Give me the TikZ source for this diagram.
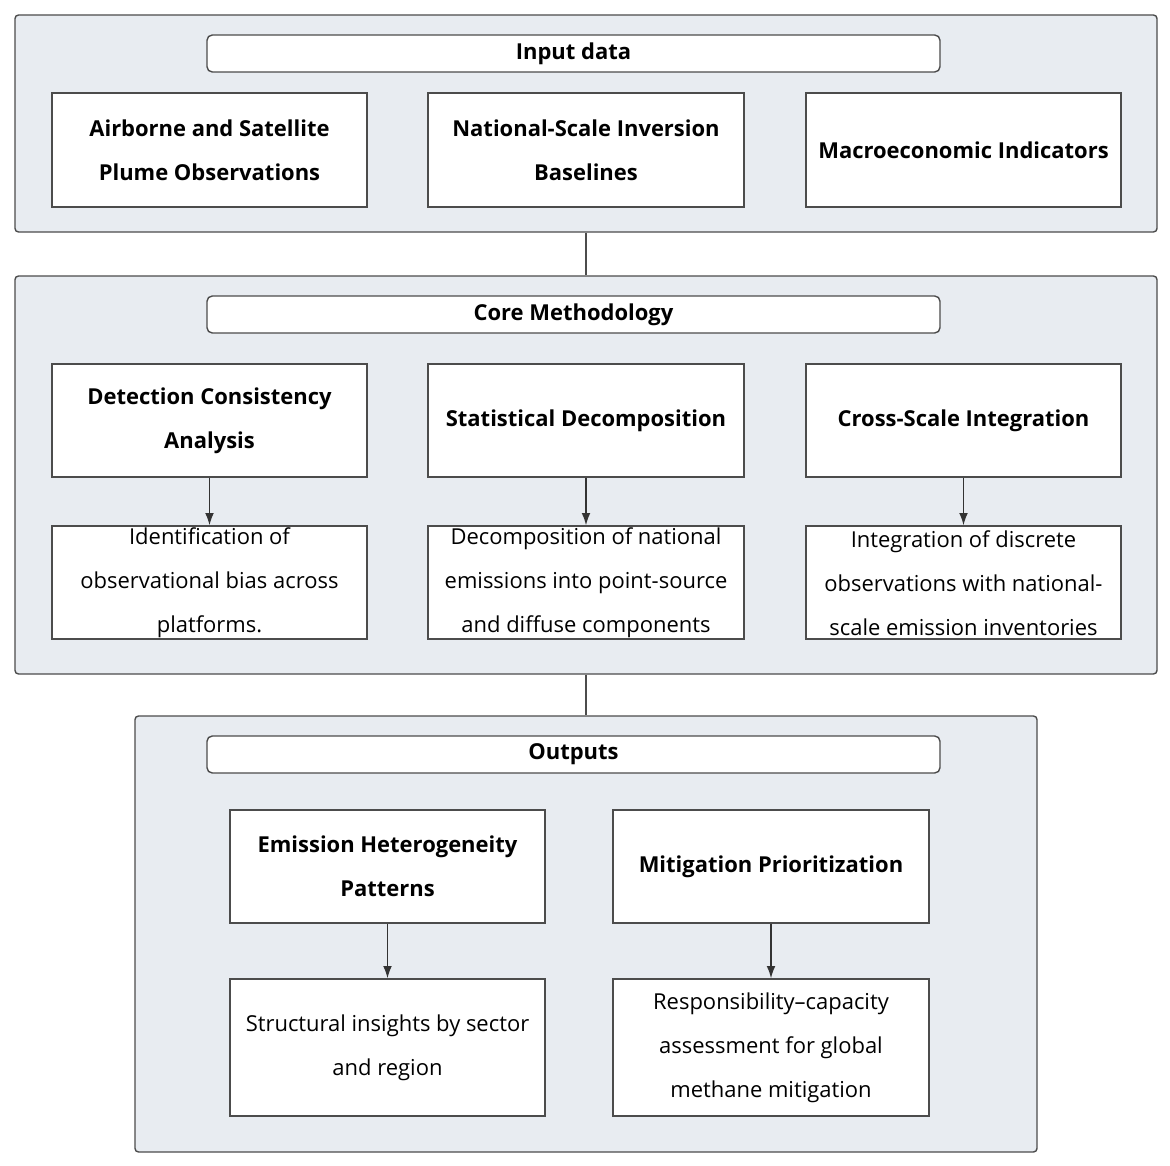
\documentclass[tikz,border=0pt]{standalone}
\usepackage{fontspec}
\setmainfont{Open Sans}
\usetikzlibrary{arrows.meta}
\begin{document}
\begin{tikzpicture}[x=0.02cm,y=-0.02cm,
  panel/.style={draw=black!70,fill=panelfill,rounded corners=2pt,line width=0.8pt},
  hdr/.style={draw=black!70,fill=white,rounded corners=3pt,line width=0.8pt,font=\fontsize{12.5}{24}\selectfont\bfseries,inner sep=0pt},
  tbox/.style={draw=black!70,fill=white,line width=0.8pt,align=center,inner sep=0pt,font=\fontsize{12.5}{25}\selectfont\bfseries},
  dbox/.style={draw=black!70,fill=white,line width=0.8pt,align=center,inner sep=0pt,font=\fontsize{12.5}{25}\selectfont},
  link/.style={draw=black!70,line width=0.8pt},
  arr/.style={draw=black!80,line width=0.8pt,-{Latex[length=7pt,width=5pt]}}]
\definecolor{panelfill}{HTML}{E8ECF1}
\useasboundingbox (0,0) rectangle (1170,1166);
\newcommand{\bx}[6]{\node[#1,minimum width=#4*0.02cm,minimum height=#5*0.02cm] (#2) at (#3) {#6};}
% panels
\node[panel,minimum width=1142*0.02cm,minimum height=217*0.02cm] (p1) at (586,123.5) {};
\node[panel,minimum width=1142*0.02cm,minimum height=398*0.02cm] (p2) at (586,475) {};
\node[panel,minimum width=902*0.02cm,minimum height=436*0.02cm] (p3) at (586,934) {};
\draw[link] (p1.south) -- (p2.north);
\draw[link] (p2.south) -- (p3.north);
% panel 1
\bx{hdr}{h1}{573.5,53.5}{733}{37}{Input data}
\bx{tbox}{a1}{209.5,150}{315}{114}{Airborne and Satellite\\Plume Observations}
\bx{tbox}{a2}{586,150}{316}{114}{National-Scale Inversion\\Baselines}
\bx{tbox}{a3}{963.5,150}{315}{114}{Macroeconomic Indicators}
% panel 2
\bx{hdr}{h2}{573.5,314.5}{733}{37}{Core Methodology}
\bx{tbox}{b1}{209.5,420.5}{315}{113}{Detection Consistency\\Analysis}
\bx{tbox}{b2}{586,420.5}{316}{113}{Statistical Decomposition}
\bx{tbox}{b3}{963.5,420.5}{315}{113}{Cross-Scale Integration}
\bx{dbox}{c1}{209.5,582.5}{315}{113}{}
\bx{dbox}{c2}{586,582.5}{316}{113}{}
\bx{dbox}{c3}{963.5,582.5}{315}{113}{}
\node[align=center,font=\fontsize{12.5}{25}\selectfont] at (209.5,583) {Identification of\\observational bias across\\platforms.};
\node[align=center,font=\fontsize{12.5}{25}\selectfont] at (586,583) {Decomposition of national\\emissions into point-source\\and diffuse components};
\node[align=center,font=\fontsize{12.5}{25}\selectfont] at (963.5,583) {Integration of discrete\\observations with national-\\scale emission inventories};
\draw[arr] (b1) -- (c1);
\draw[arr] (b2) -- (c2);
\draw[arr] (b3) -- (c3);
% panel 3
\bx{hdr}{h3}{573.5,754.5}{733}{37}{Outputs}
\bx{tbox}{d1}{387.5,866.5}{315}{113}{Emission Heterogeneity\\Patterns}
\bx{tbox}{d2}{771,866.5}{316}{113}{Mitigation Prioritization}
\bx{dbox}{e1}{387.5,1047.5}{315}{137}{Structural insights by sector\\and region}
\bx{dbox}{e2}{771,1047.5}{316}{137}{Responsibility–capacity\\assessment for global\\methane mitigation}
\draw[arr] (d1) -- (e1);
\draw[arr] (d2) -- (e2);
\end{tikzpicture}
\end{document}
